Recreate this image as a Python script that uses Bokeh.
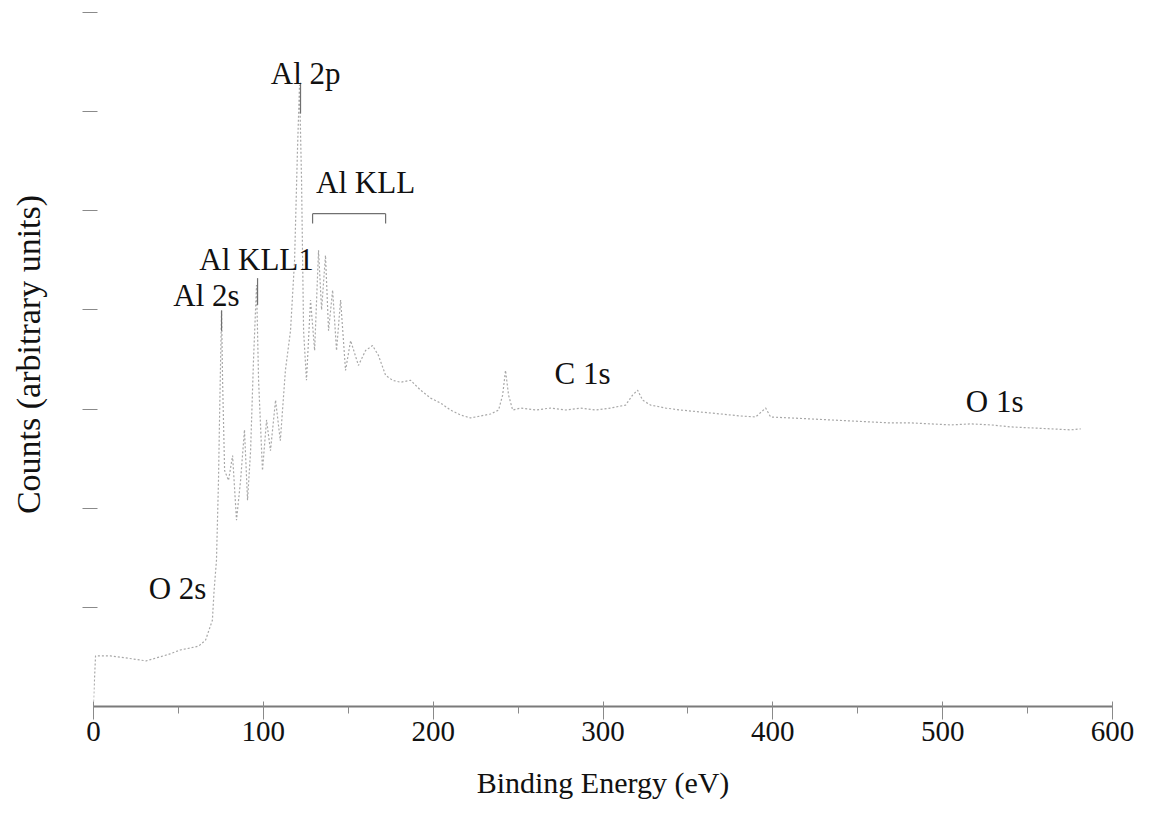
from bokeh.plotting import figure
from bokeh.models import Range1d, FixedTicker, CustomJSTickFormatter, ColumnDataSource
from bokeh.core.properties import value
from bokeh.embed import file_html
from bokeh.resources import INLINE

# --- spectrum (binding energy in eV, counts in arbitrary units) ---
energy = [0, 1.2, 10, 19, 31, 39, 45, 51, 57, 62, 66, 70, 71, 72.4, 73.6, 74.2, 75.4, 76, 77.2,
          79.5, 81.9, 84.2, 86.6, 88.9, 90.7, 92.5, 94.2, 96, 97.2, 99.5, 101.9, 104.2, 107.2,
          110, 113, 116, 118.4, 120.1, 121.3, 122.5, 123.7, 125.4, 127.8, 130.2, 132.5, 134.3,
          136.6, 138.4, 140.8, 143.1, 145.5, 148.4, 151.4, 156, 160.2, 164.3, 167.8, 172, 176.1,
          180.8, 186.7, 192.6, 198.5, 204.4, 210.2, 216.1, 222, 227.9, 233.8, 238.5, 240.9, 242.6,
          244.4, 246.8, 251.5, 260.3, 269.1, 277.9, 286.8, 295.6, 304.5, 313.3, 317.4, 320.4,
          323.3, 328, 336.9, 345.7, 357.5, 369.3, 381, 389.9, 395.8, 398.7, 410.5, 422.3, 434,
          445.8, 457.6, 469.4, 481.2, 492.9, 504.7, 516.5, 528.3, 540, 551.8, 563.6, 575.4, 581.3]
counts = [0.05, 0.51, 0.51, 0.49, 0.46, 0.50, 0.53, 0.57, 0.59, 0.61, 0.67, 0.87, 1.17, 1.47, 2.28,
          2.89, 4.00, 3.29, 2.38, 2.28, 2.53, 1.88, 2.28, 2.79, 2.08, 2.58, 3.49, 4.25, 3.29, 2.38,
          2.89, 2.58, 3.09, 2.68, 3.39, 3.79, 4.50, 5.61, 6.27, 5.31, 3.79, 3.29, 4.10, 3.59, 4.60,
          4.00, 4.55, 3.79, 4.20, 3.59, 4.10, 3.39, 3.69, 3.44, 3.59, 3.64, 3.54, 3.34, 3.29, 3.27,
          3.29, 3.19, 3.11, 3.06, 2.99, 2.94, 2.91, 2.93, 2.95, 2.99, 3.14, 3.39, 3.14, 2.99, 3.01,
          2.99, 3.01, 2.99, 3.01, 2.99, 3.01, 3.04, 3.14, 3.19, 3.09, 3.04, 3.01, 2.99, 2.97, 2.95,
          2.93, 2.92, 3.01, 2.92, 2.91, 2.90, 2.89, 2.88, 2.87, 2.86, 2.86, 2.85, 2.84, 2.85, 2.84,
          2.82, 2.81, 2.80, 2.79, 2.80]

# --- peak annotations ---
label_text = ["Al 2p", "Al KLL", "Al KLL1", "Al 2s", "C 1s", "O 1s", "O 2s"]
label_x = [124.9, 160.2, 96.0, 66.5, 288.0, 530.6, 49.5]
label_y = [6.38, 5.28, 4.51, 4.14, 3.36, 3.08, 1.19]

# marker strokes: Al 2p, Al KLL1, Al 2s, Al KLL bracket (bar + two legs)
mark_x0 = [121.9, 96.6, 75.4, 129.0, 129.0, 172.0]
mark_y0 = [6.29, 4.32, 3.99, 4.97, 4.97, 4.97]
mark_x1 = [121.9, 96.6, 75.4, 172.0, 129.0, 172.0]
mark_y1 = [5.98, 4.05, 3.79, 4.97, 4.87, 4.87]

x_ticks = [0, 100, 200, 300, 400, 500, 600]
y_ticks = [1, 2, 3, 4, 5, 6, 7]

SERIF = "Liberation Serif"

p = figure(width=1156, height=824, output_backend="svg", toolbar_location=None,
           x_range=Range1d(0, 600), y_range=Range1d(0, 7.1),
           min_border_left=93, min_border_right=44, min_border_top=2, min_border_bottom=118)
p.outline_line_color = None
p.xgrid.visible = False
p.ygrid.visible = False
p.background_fill_color = "white"
p.border_fill_color = "white"

src = ColumnDataSource(dict(x=energy, y=counts))
p.line("x", "y", source=src, line_color="#a8a8a8", line_width=1.2, line_dash="2 2")

msrc = ColumnDataSource(dict(x0=mark_x0, y0=mark_y0, x1=mark_x1, y1=mark_y1))
p.segment("x0", "y0", "x1", "y1", source=msrc, line_color="#707070", line_width=1.2)

lsrc = ColumnDataSource(dict(x=label_x, y=label_y, t=label_text))
p.text("x", "y", text="t", source=lsrc, text_font=value(SERIF), text_font_size="31px",
       text_align="center", text_baseline="middle", text_color="#111111")

# x axis
xa = p.xaxis[0]
xa.ticker = FixedTicker(ticks=x_ticks, minor_ticks=[50, 150, 250, 350, 450, 550])
xa.axis_line_color = "#7a7a7a"
xa.axis_line_width = 2
xa.major_tick_line_color = "#8a8a8a"
xa.minor_tick_line_color = "#8a8a8a"
xa.major_tick_out = 13
xa.major_tick_in = 5
xa.minor_tick_out = 7
xa.minor_tick_in = 0
xa.major_label_standoff = 2
xa.major_label_text_font = SERIF
xa.major_label_text_font_size = "29px"
xa.major_label_text_color = "#111111"
xa.axis_label = "Binding Energy (eV)"
xa.axis_label_text_font = SERIF
xa.axis_label_text_font_size = "30px"
xa.axis_label_text_font_style = "normal"
xa.axis_label_text_color = "#111111"
xa.axis_label_standoff = 22

# y axis: tick marks only
ya = p.yaxis[0]
ya.ticker = FixedTicker(ticks=y_ticks, minor_ticks=[])
ya.formatter = CustomJSTickFormatter(code="return ''")
ya.axis_line_color = None
ya.major_tick_line_color = "#8a8a8a"
ya.major_tick_out = 11
ya.major_tick_in = 4
ya.major_label_standoff = 0
ya.axis_label = "Counts (arbitrary units)"
ya.axis_label_text_font = SERIF
ya.axis_label_text_font_size = "34px"
ya.axis_label_text_font_style = "normal"
ya.axis_label_text_color = "#111111"
ya.axis_label_standoff = 36

open("out.html", "w").write(file_html(p, INLINE))
